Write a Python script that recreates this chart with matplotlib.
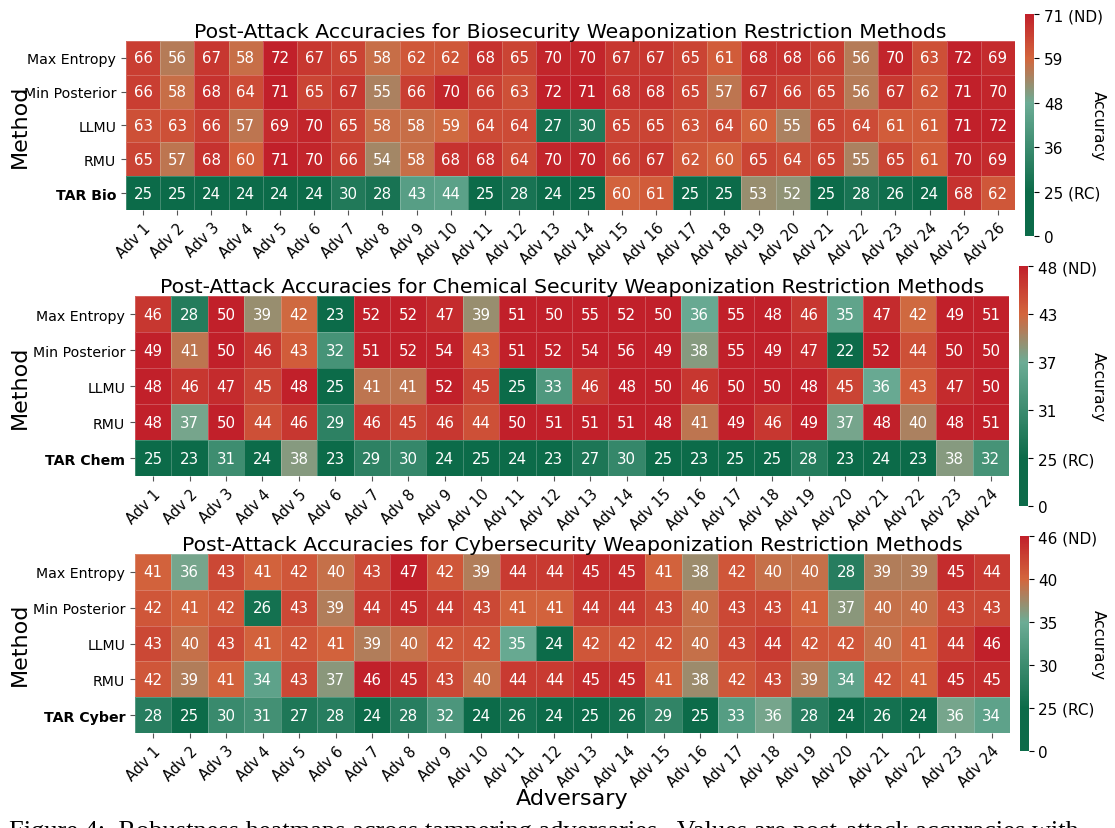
import numpy as np
import matplotlib
matplotlib.use("Agg")
import matplotlib.pyplot as plt
from matplotlib.colors import LinearSegmentedColormap, FuncNorm

methods = ["Max Entropy", "Min Posterior", "LLMU", "RMU"]

bio_vals = [
    [66, 56, 67, 58, 72, 67, 65, 58, 62, 62, 68, 65, 70, 70, 67, 67, 65, 61, 68, 68, 66, 56, 70, 63, 72, 69],
    [66, 58, 68, 64, 71, 65, 67, 55, 66, 70, 66, 63, 72, 71, 68, 68, 65, 57, 67, 66, 65, 56, 67, 62, 71, 70],
    [63, 63, 66, 57, 69, 70, 65, 58, 58, 59, 64, 64, 27, 30, 65, 65, 63, 64, 60, 55, 65, 64, 61, 61, 71, 72],
    [65, 57, 68, 60, 71, 70, 66, 54, 58, 68, 68, 64, 70, 70, 66, 67, 62, 60, 65, 64, 65, 55, 65, 61, 70, 69],
    [25, 25, 24, 24, 24, 24, 30, 28, 43, 44, 25, 28, 24, 25, 60, 61, 25, 25, 53, 52, 25, 28, 26, 24, 68, 62],
]
chem_vals = [
    [46, 28, 50, 39, 42, 23, 52, 52, 47, 39, 51, 50, 55, 52, 50, 36, 55, 48, 46, 35, 47, 42, 49, 51],
    [49, 41, 50, 46, 43, 32, 51, 52, 54, 43, 51, 52, 54, 56, 49, 38, 55, 49, 47, 22, 52, 44, 50, 50],
    [48, 46, 47, 45, 48, 25, 41, 41, 52, 45, 25, 33, 46, 48, 50, 46, 50, 50, 48, 45, 36, 43, 47, 50],
    [48, 37, 50, 44, 46, 29, 46, 45, 46, 44, 50, 51, 51, 51, 48, 41, 49, 46, 49, 37, 48, 40, 48, 51],
    [25, 23, 31, 24, 38, 23, 29, 30, 24, 25, 24, 23, 27, 30, 25, 23, 25, 25, 28, 23, 24, 23, 38, 32],
]
cyber_vals = [
    [41, 36, 43, 41, 42, 40, 43, 47, 42, 39, 44, 44, 45, 45, 41, 38, 42, 40, 40, 28, 39, 39, 45, 44],
    [42, 41, 42, 26, 43, 39, 44, 45, 44, 43, 41, 41, 44, 44, 43, 40, 43, 43, 41, 37, 40, 40, 43, 43],
    [43, 40, 43, 41, 42, 41, 39, 40, 42, 42, 35, 24, 42, 42, 42, 40, 43, 44, 42, 42, 40, 41, 44, 46],
    [42, 39, 41, 34, 43, 37, 46, 45, 43, 40, 44, 44, 45, 45, 41, 38, 42, 43, 39, 34, 42, 41, 45, 45],
    [28, 25, 30, 31, 27, 28, 24, 28, 32, 24, 26, 24, 25, 26, 29, 25, 33, 36, 28, 24, 26, 24, 36, 34],
]

# random-chance and no-defense accuracies, colorbar tick labels
bio_rc, bio_nd = 25, 71
chem_rc, chem_nd = 25, 48
cyber_rc, cyber_nd = 25, 46
bio_ticklabels = ["0", "25 (RC)", "36", "48", "59", "71 (ND)"]
chem_ticklabels = ["0", "25 (RC)", "31", "37", "43", "48 (ND)"]
cyber_ticklabels = ["0", "25 (RC)", "30", "35", "40", "46 (ND)"]

cmap = LinearSegmentedColormap.from_list(
    "tar", [(0.0, "#0c6b49"), (0.2, "#0c6b49"), (0.6, "#6cac95"),
            (0.8, "#d3663d"), (1.0, "#c1202a")])

fig = plt.figure(figsize=(11.15, 8.29), dpi=100)
W, H = 1115.0, 829.0


def draw(rect, cbar_rect, vals, tar_name, rc, nd, ticklabels, title, last=False):
    data = np.array(vals, dtype=float)
    nodes = np.concatenate([[0], np.linspace(rc, nd, 5)])
    fracs = np.linspace(0, 1, 6)
    norm = FuncNorm((lambda x: np.interp(x, nodes, fracs),
                     lambda y: np.interp(y, fracs, nodes)), vmin=0, vmax=nd)

    ax = fig.add_axes(rect)
    mesh = ax.pcolormesh(data, cmap=cmap, norm=norm,
                         edgecolors=(1, 1, 1, 0.22), linewidth=0.6)
    ax.set_xlim(0, data.shape[1])
    ax.set_ylim(data.shape[0], 0)
    for s in ax.spines.values():
        s.set_visible(False)
    for i in range(data.shape[0]):
        for j in range(data.shape[1]):
            ax.text(j + 0.5, i + 0.5, "%d" % data[i, j], ha="center", va="center",
                    color="white", fontsize=10.8)

    ncol = data.shape[1]
    ax.set_xticks(np.arange(ncol) + 0.5)
    ax.set_xticklabels(["Adv %d" % (k + 1) for k in range(ncol)], rotation=45,
                       ha="right", rotation_mode="anchor", fontsize=10.5)
    ax.set_yticks(np.arange(5) + 0.5)
    ax.set_yticklabels(methods + [tar_name], fontsize=10.2)
    ax.get_yticklabels()[-1].set_fontweight("bold")
    ax.tick_params(length=3.5, color="#555555")
    ax.set_title(title, fontsize=14.7, pad=2)

    ax.set_ylabel("Method", fontsize=16)
    ax.yaxis.set_label_coords(-(rect[0] * W - 30) / (rect[2] * W), 0.5)
    if last:
        ax.set_xlabel("Adversary", fontsize=16)
        ax.xaxis.set_label_coords(0.5, -(789 - 734) / (rect[3] * H))

    cax = fig.add_axes(cbar_rect)
    cb = fig.colorbar(mesh, cax=cax)
    cb.outline.set_linewidth(0)
    cb.set_ticks(nodes)
    cb.set_ticklabels(ticklabels)
    cax.tick_params(labelsize=11, length=3.5)
    cb.set_label("Accuracy", rotation=270, fontsize=11, va="center")
    cax.yaxis.set_label_coords((1098 - cbar_rect[0] * W) / (cbar_rect[2] * W), 0.5)


draw([0.1130, 0.7455, 0.7973, 0.2039], [0.9193, 0.7141, 0.0081, 0.2678],
     bio_vals, "TAR Bio", bio_rc, bio_nd, bio_ticklabels,
     "Post-Attack Accuracies for Biosecurity Weaponization Restriction Methods")
draw([0.1211, 0.4246, 0.7839, 0.2171], [0.9139, 0.3884, 0.0081, 0.2895],
     chem_vals, "TAR Chem", chem_rc, chem_nd, chem_ticklabels,
     "Post-Attack Accuracies for Chemical Security Weaponization Restriction Methods")
draw([0.1211, 0.1146, 0.7848, 0.2159], [0.9148, 0.0929, 0.0078, 0.2593],
     cyber_vals, "TAR Cyber", cyber_rc, cyber_nd, cyber_ticklabels,
     "Post-Attack Accuracies for Cybersecurity Weaponization Restriction Methods",
     last=True)

# caption of the source figure, cut off at the bottom edge
fig.text(0.008, 1 - 838 / H,
         "Figure 4:  Robustness heatmaps across tampering adversaries.  Values are post-attack accuracies with",
         family="Liberation Serif", fontsize=19, va="baseline", ha="left")

fig.savefig("out.png", dpi=100)
